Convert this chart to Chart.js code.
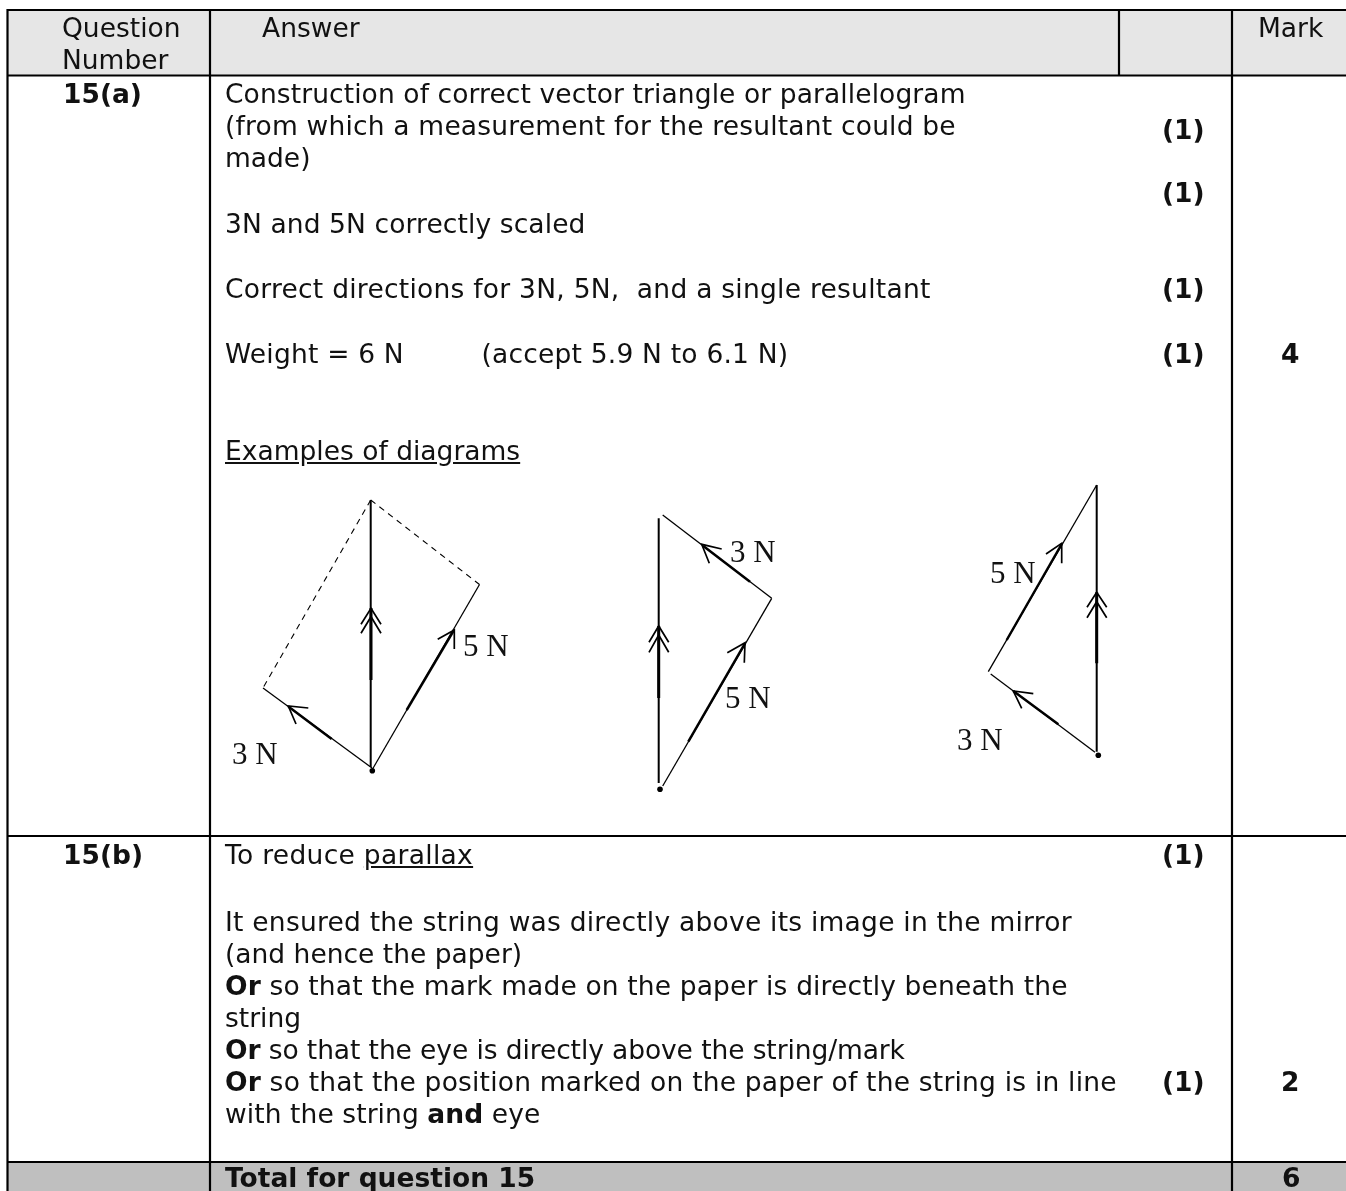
<!DOCTYPE html>
<html>
<head>
<meta charset="utf-8">
<script src="https://cdn.jsdelivr.net/npm/chart.js@4"></script>
<style>
html, body { margin: 0; padding: 0; background: #fff; overflow: hidden; }
#page { position: relative; width: 1346px; height: 1191px; overflow: hidden; font-family: "DejaVu Sans", sans-serif; font-size: 26.5px; color: #111; }
#page canvas { position: absolute; left: 0; top: 0; }
.t { position: absolute; white-space: pre; line-height: 30px; z-index: 2; }
.d { font-family: "Liberation Serif", serif; font-size: 31px; }
</style>
</head>
<body>
<div id="page">
<canvas id="chart" width="1346" height="1191"></canvas>
</div>
<script>
// table rules in page pixels
const colRules = [7.5, 210, 1232];
const headCol = 1119;
const rowRules = [10, 75.5, 836, 1162];
const headBand = [10, 75.5];
const totalBand = [1162, 1191];
const pageRight = 1346;

// diagram 1 (parallelogram)
const d1Res = [[370.7, 500], [370.7, 767]];
const d1ResThick = [[371, 608], [371, 680]];
const d1Five = [[372, 770], [479.5, 584.5]];
const d1FiveThick = [[406.7, 710], [454, 630]];
const d1Three = [[372, 768], [263, 688]];
const d1ThreeThick = [[331.7, 739], [288.3, 706.5]];
const d1DashA = [[370.7, 500], [479.5, 584.5]];
const d1DashB = [[370.7, 500], [263, 688]];
const d1Heads = [
    [[361, 624.3], [371, 608.3], [381, 624.3]],
    [[361, 633.3], [371, 616.7], [381, 633.3]],
    [[437.7, 639.3], [454.3, 630], [454.3, 649]],
    [[308.3, 708], [288.3, 706], [296, 724]]
];

// diagram 2
const d2Res = [[658.7, 518.3], [658.7, 783]];
const d2ResThick = [[658.7, 626], [658.7, 698]];
const d2Five = [[662.7, 786], [771.7, 598.3]];
const d2FiveThick = [[688.3, 741.7], [745, 643.3]];
const d2Three = [[662.7, 515], [771.7, 598.3]];
const d2ThreeThick = [[703.3, 546], [750, 581.7]];
const d2Heads = [
    [[649, 642.3], [658.7, 626], [668.7, 642.3]],
    [[649, 652.3], [658.7, 635], [668.7, 652.3]],
    [[727.3, 652.7], [745, 642.7], [744.3, 662.7]],
    [[721.7, 549], [701.7, 544.3], [709.3, 563.3]]
];

// diagram 3
const d3Res = [[1096.7, 485], [1096.7, 751.7]];
const d3ResThick = [[1096.7, 592.3], [1096.7, 663.3]];
const d3Five = [[1096.7, 485], [988.3, 671.7]];
const d3FiveThick = [[1006.7, 640], [1061.7, 544]];
const d3Three = [[990.7, 674], [1095, 752.3]];
const d3ThreeThick = [[1013.3, 691], [1058.3, 724.3]];
const d3Heads = [
    [[1087, 607.3], [1096.7, 592.3], [1106.7, 607.3]],
    [[1087, 617.7], [1096.7, 601.7], [1106.7, 617.7]],
    [[1046, 554], [1061.7, 543.3], [1061.7, 563.3]],
    [[1033.3, 693.7], [1013.3, 691], [1021.7, 708.3]]
];

const dots = [[372.3, 770.7], [660, 789.3], [1098.3, 755.3]];

// x, middle of the line, text, letter spacing to fit the original width
const answerLines = [
    [225, 94, 'Construction of correct vector triangle or parallelogram', 0.09],
    [225, 126, '(from which a measurement for the resultant could be', 0.19],
    [225, 158, 'made)', 0],
    [225, 224, '3N and 5N correctly scaled', 0.1],
    [225, 289, 'Correct directions for 3N, 5N,  and a single resultant', 0.25],
    [225, 354, 'Weight = 6 N         (accept 5.9 N to 6.1 N)', 0.2],
    [225, 451, '<u>Examples of diagrams</u>', 0],
    [225, 855, 'To reduce <u>parallax</u>', 0.3],
    [225, 922, 'It ensured the string was directly above its image in the mirror', 0.23],
    [225, 954, '(and hence the paper)', 0],
    [225, 986, '<b>Or</b> so that the mark made on the paper is directly beneath the', 0.14],
    [225, 1018, 'string', 0],
    [225, 1050, '<b>Or</b> so that the eye is directly above the string/mark', -0.1],
    [225, 1082, '<b>Or</b> so that the position marked on the paper of the string is in line', 0.2],
    [225, 1114, 'with the string <b>and</b> eye', 0.08],
    [225, 1178, '<b>Total for question 15</b>', 0],
];
const headLines = [
    [62, 28, 'Question'],
    [62, 60, 'Number'],
    [262, 28, 'Answer'],
    [1258, 28, 'Mark'],
];
const markLines = [
    [63, 94, '15(a)'], [63, 855, '15(b)'],
    [1162, 130, '(1)'], [1162, 193, '(1)'], [1162, 289, '(1)'], [1162, 354, '(1)'], [1162, 855, '(1)'], [1162, 1082, '(1)'],
    [1281, 354, '4'], [1281, 1082, '2'], [1282, 1178, '6'],
];
const diagramLabels = [
    [463, 646, '5 N'], [232, 754, '3 N'],
    [730, 552, '3 N'], [725, 698, '5 N'],
    [990, 573, '5 N'], [957, 740, '3 N'],
];

function addText(x, midY, html, cls, weight, spacing) {
    let el = document.createElement('div');
    el.className = 't ' + (cls || '');
    el.style.left = x + 'px';
    el.style.top = (midY - 15) + 'px';
    el.innerHTML = html;
    if (weight) el.style.fontWeight = weight;
    if (spacing) el.style.letterSpacing = spacing + 'px';
    document.getElementById('page').appendChild(el);
}
answerLines.forEach(l => addText(l[0], l[1], l[2], '', '', l[3]));
headLines.forEach(l => addText(l[0], l[1], l[2]));
markLines.forEach(l => addText(l[0], l[1], l[2], '', 'bold'));
diagramLabels.forEach(l => addText(l[0], l[1], l[2], 'd'));

const toPoints = seg => seg.map(p => ({ x: p[0], y: p[1] }));
const line = (seg, width, dash) => ({
    type: 'line',
    data: toPoints(seg),
    borderColor: '#000',
    borderWidth: width,
    borderDash: dash || [],
    pointRadius: 0,
    fill: false,
    tension: 0,
    order: 0
});
// a wide flat line works as the grey background of a table row
const band = (b, colour) => {
    let mid = (b[0] + b[1]) / 2;
    let ds = line([[colRules[0], mid], [pageRight, mid]], b[1] - b[0]);
    ds.borderColor = colour;
    ds.order = 1;
    return ds;
};

let datasets = [band(headBand, '#e6e6e6'), band(totalBand, '#bfbfbf')];
colRules.forEach(x => datasets.push(line([[x, rowRules[0] - 1], [x, 1191]], 2.2)));
datasets.push(line([[headCol, rowRules[0]], [headCol, rowRules[1]]], 2.2));
rowRules.forEach(y => datasets.push(line([[colRules[0], y], [pageRight, y]], 2.2)));

[d1Five, d1Three, d2Five, d2Three, d3Five, d3Three].forEach(s => datasets.push(line(s, 1.3)));
[d1Res, d2Res, d3Res].forEach(s => datasets.push(line(s, 2)));
[d1ResThick, d2ResThick, d3ResThick].forEach(s => datasets.push(line(s, 3)));
[d1FiveThick, d1ThreeThick, d2FiveThick, d2ThreeThick, d3FiveThick, d3ThreeThick].forEach(s => datasets.push(line(s, 2.5)));
[d1DashA, d1DashB].forEach(s => datasets.push(line(s, 1.1, [6, 5])));
[d1Heads, d2Heads, d3Heads].forEach(h => h.forEach(s => datasets.push(line(s, 1.7))));
datasets.push({
    type: 'scatter',
    data: toPoints(dots),
    backgroundColor: '#000',
    borderWidth: 0,
    pointRadius: 2.8,
    order: 0
});

new Chart(document.getElementById('chart'), {
    type: 'scatter',
    data: { datasets: datasets },
    options: {
        responsive: false,
        animation: false,
        layout: { padding: 0, autoPadding: false },
        plugins: { legend: { display: false }, tooltip: { enabled: false } },
        scales: {
            x: { type: 'linear', min: 0, max: 1346, display: false },
            y: { type: 'linear', min: 0, max: 1191, reverse: true, display: false }
        }
    }
});
</script>
</body>
</html>
